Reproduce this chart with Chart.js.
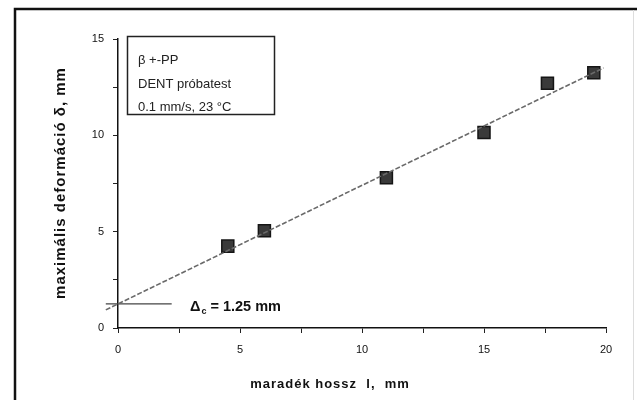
<!DOCTYPE html>
<html>
<head>
<meta charset="utf-8">
<script src="https://cdn.jsdelivr.net/npm/chart.js@4.4.1/dist/chart.umd.min.js"></script>
<style>
    html, body { margin: 0; padding: 0; background: #fff; }
    #wrap { width: 637px; height: 400px; position: relative; }
</style>
</head>
<body>
<div id="wrap"><canvas id="deformChart" width="637" height="400"></canvas></div>
<script>
// measured points: residual length l (mm) vs max deformation (mm)
const lengthVals = [4.5, 6.0, 11.0, 15.0, 17.6, 19.5];
const deformVals = [4.25, 5.05, 7.8, 10.15, 12.7, 13.25];

// fitted line end points
const fitX = [-0.5, 19.9];
const fitY = [0.94, 13.5];

// intercept marker
const deltaC = 1.25;
const deltaLineX = [-0.5, 2.2];

const xTickLabels = ['0', '5', '10', '15', '20'];
const yTickLabels = ['0', '5', '10', '15'];

const legendLines = ['β +-PP', 'DENT próbatest', '0.1 mm/s, 23 °C'];
const xTitle = 'maradék hossz  l,  mm';
const yTitle = 'maximális deformáció δ, mm';
const deltaLabel = ' = 1.25 mm';

const tickFont = "'Liberation Sans Narrow', 'Liberation Sans', Arial, sans-serif";
const boldFont = "'Liberation Sans', Arial, sans-serif";

// frame, titles, legend box and the Δc text
const decorPlugin = {
    id: 'decor',
    beforeDraw(chart) {
        const ctx = chart.ctx;
        ctx.save();
        ctx.fillStyle = '#fff';
        ctx.fillRect(0, 0, chart.width, chart.height);
        ctx.restore();
    },
    afterDraw(chart) {
        const ctx = chart.ctx;
        ctx.save();

        // outer frame
        ctx.strokeStyle = '#111';
        ctx.lineWidth = 2.5;
        ctx.beginPath();
        ctx.moveTo(15, 402);
        ctx.lineTo(15, 9);
        ctx.lineTo(637, 9);
        ctx.stroke();
        ctx.strokeStyle = '#ddd';
        ctx.lineWidth = 1;
        ctx.beginPath();
        ctx.moveTo(633.5, 10);
        ctx.lineTo(633.5, 400);
        ctx.stroke();

        // legend box
        ctx.strokeStyle = '#222';
        ctx.lineWidth = 1.5;
        ctx.strokeRect(127.5, 36.5, 147, 78);
        ctx.fillStyle = '#222';
        ctx.font = '13px ' + tickFont;
        ctx.textBaseline = 'alphabetic';
        ctx.textAlign = 'left';
        legendLines.forEach((t, i) => ctx.fillText(t, 138, 64 + i * 23.5));

        // Δc label
        ctx.fillStyle = '#111';
        ctx.font = 'bold 14.5px ' + boldFont;
        ctx.fillText('Δ', 190, 311);
        let w = ctx.measureText('Δ').width;
        ctx.font = 'bold 9px ' + boldFont;
        ctx.fillText('c', 190 + w + 1, 314);
        let w2 = ctx.measureText('c').width;
        ctx.font = 'bold 14.5px ' + boldFont;
        ctx.fillText(deltaLabel, 190 + w + w2 + 1, 311);

        // axis titles
        ctx.font = 'bold 13px ' + boldFont;
        ctx.letterSpacing = '1px';
        ctx.textAlign = 'center';
        ctx.fillText(xTitle, 330, 388);

        ctx.translate(65, 183);
        ctx.rotate(-Math.PI / 2);
        ctx.font = 'bold 15px ' + boldFont;
        ctx.letterSpacing = '1px';
        ctx.fillText(yTitle, 0, 0);
        ctx.restore();
    }
};

const ctx = document.getElementById('deformChart').getContext('2d');
const chart = new Chart(ctx, {
    type: 'scatter',
    data: {
        datasets: [
            {
                label: 'fit',
                type: 'line',
                data: fitX.map((x, i) => ({ x: x, y: fitY[i] })),
                borderColor: '#6a6a6a',
                borderWidth: 1.6,
                borderDash: [5, 2],
                pointRadius: 0,
                fill: false,
                clip: false
            },
            {
                label: 'delta',
                type: 'line',
                data: deltaLineX.map(x => ({ x: x, y: deltaC })),
                borderColor: '#444',
                borderWidth: 1.2,
                pointRadius: 0,
                fill: false,
                clip: false
            },
            {
                label: 'measured',
                data: lengthVals.map((x, i) => ({ x: x, y: deformVals[i] })),
                pointStyle: 'rect',
                pointRadius: 8.5,
                backgroundColor: '#3a3a3a',
                borderColor: '#151515',
                borderWidth: 1.5,
                clip: false
            }
        ]
    },
    options: {
        responsive: false,
        animation: false,
        layout: { padding: { left: 0, right: 31, top: 39, bottom: 0 } },
        plugins: {
            legend: { display: false },
            tooltip: { enabled: false }
        },
        scales: {
            x: {
                type: 'linear',
                min: 0,
                max: 20,
                afterFit(scale) { scale.height = 72; },
                ticks: {
                    stepSize: 2.5,
                    autoSkip: false,
                    maxRotation: 0,
                    padding: 10,
                    color: '#111',
                    font: { size: 11, family: tickFont },
                    callback: v => (v % 5 === 0 ? xTickLabels[v / 5] : '')
                },
                grid: { drawOnChartArea: false, tickLength: 5, color: '#222', lineWidth: 1 },
                border: { color: '#111', width: 1.5 }
            },
            y: {
                type: 'linear',
                min: 0,
                max: 15,
                afterFit(scale) { scale.width = 118; },
                ticks: {
                    stepSize: 2.5,
                    autoSkip: false,
                    padding: 9,
                    color: '#111',
                    font: { size: 11, family: tickFont },
                    callback: v => (v % 5 === 0 ? yTickLabels[v / 5] : '')
                },
                grid: { drawOnChartArea: false, tickLength: 5, color: '#222', lineWidth: 1 },
                border: { color: '#111', width: 1.5 }
            }
        }
    },
    plugins: [decorPlugin]
});
</script>
</body>
</html>
